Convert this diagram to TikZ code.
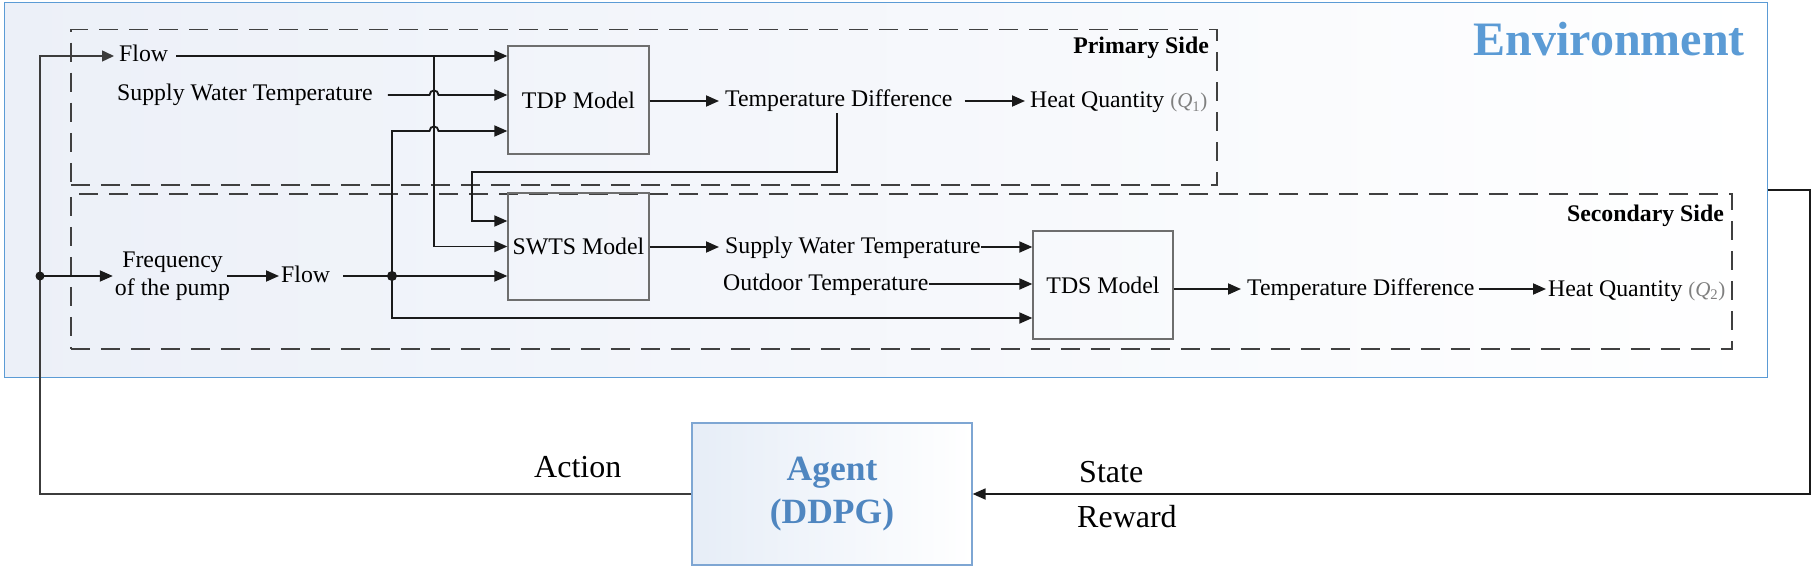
\documentclass[tikz,border=0pt]{standalone}
\usepackage{fontspec}
\setmainfont{Liberation Serif}
\usetikzlibrary{arrows.meta,calc}
\definecolor{envblue}{HTML}{5B9BD5}
\definecolor{envborder}{HTML}{5B9BD5}
\definecolor{envfill}{HTML}{ECF0F8}
\definecolor{agentblue}{HTML}{4F86C0}
\definecolor{agentborder}{HTML}{7EA6D3}
\definecolor{agentfill}{HTML}{E6EDF7}
\definecolor{dashgray}{HTML}{404040}
\definecolor{boxgray}{HTML}{6E6E6E}
\definecolor{linedark}{HTML}{1A1A1A}
\definecolor{actgray}{HTML}{3C3C3C}
\definecolor{qgray}{HTML}{7F7F7F}
\newcommand{\qlabel}[1]{\textcolor{qgray}{\fontsize{21}{24}\selectfont(\textit{Q}\textsubscript{#1})}}
\begin{document}
\begin{tikzpicture}[x=1pt,y=-1pt,
  lbl/.style={inner sep=0pt, font=\fontsize{23.8}{28}\selectfont, text height=15pt, text depth=3pt, anchor=west},
  freelbl/.style={inner sep=0pt, font=\fontsize{23.8}{28}\selectfont},
  biglbl/.style={inner sep=0pt, font=\fontsize{32}{38}\selectfont, anchor=base west},
  sidelbl/.style={inner sep=0pt, font=\bfseries\fontsize{23.8}{28}\selectfont, anchor=base east},
  model/.style={draw=boxgray, line width=1.3pt, minimum width=141pt, minimum height=108pt, inner sep=0pt, font=\fontsize{23.8}{28}\selectfont},
  dbox/.style={draw=dashgray, line width=1.5pt, dash pattern=on 19pt off 11pt, inner sep=0pt, anchor=north west},
  conn/.style={draw=linedark, line width=1.8pt, -{Triangle[length=13pt,width=11pt]}},
  gconn/.style={draw=actgray, line width=1.5pt, -{Triangle[length=12pt,width=11pt]}},
  dot/.style={fill=linedark}
]
\useasboundingbox (0,0) rectangle (1814,567);

% Environment
\node[draw=envborder, line width=1.2pt, left color=envfill, right color=white,
      minimum width=1763pt, minimum height=375pt, inner sep=0pt, anchor=north west] (env) at (4,2) {};
\node[font=\bfseries\fontsize{48}{56}\selectfont, text=envblue, anchor=base east, inner sep=0pt] (envlbl) at (1745,56) {Environment};

% dashed regions
\node[dbox, minimum width=1146pt, minimum height=155pt] (prim) at (70,29) {};
\node[dbox, minimum width=1661pt, minimum height=155pt] (sec) at (70,193) {};
\node[sidelbl] (primlbl) at (1209,54) {Primary Side};
\node[sidelbl] (seclbl) at (1724,221) {Secondary Side};

% model boxes
\node[model] (tdp) at (578.5,100) {TDP Model};
\node[model, minimum height=107pt] (swts) at (578.5,246.5) {SWTS Model};
\node[model, minimum width=140pt] (tds) at (1103,285) {TDS Model};

% text labels
\node[lbl] (flowA) at (119,56) {Flow};
\node[lbl] (swtA) at (117,95) {Supply Water Temperature};
\node[lbl] (tdA) at (725,101) {Temperature Difference};
\node[lbl] (hqA) at (1030,102) {Heat Quantity \qlabel{1}};
\node[freelbl, align=center] (freq) at (172.5,276) {Frequency\\of the pump};
\node[lbl] (flowB) at (281,276) {Flow};
\node[lbl] (swtB) at (725,247) {Supply Water Temperature};
\node[lbl] (otB) at (723,284) {Outdoor Temperature};
\node[lbl] (tdB) at (1247,289) {Temperature Difference};
\node[lbl] (hqB) at (1548,290) {Heat Quantity \qlabel{2}};

% agent
\node[draw=agentborder, line width=1.2pt, left color=agentfill, right color=white,
      minimum width=280pt, minimum height=142pt, inner sep=0pt, align=center,
      font=\bfseries\fontsize{35.5}{43}\selectfont, text=agentblue] (agent) at (832,494) {Agent\\(DDPG)};
\node[biglbl] (actlbl) at (534,477) {Action};
\node[biglbl] (statelbl) at (1079,482) {State};
\node[biglbl] (rewardlbl) at (1077,527) {Reward};

% coordinates
\coordinate (dA) at (40,276);
\coordinate (dB) at (392,276);
\coordinate (jx) at (434,56);
\coordinate (tdpin3) at ($(tdp.west)+(0,31)$);
\coordinate (tdsin3) at ($(tds.west)+(0,33)$);
\coordinate (swtsin1) at ($(swts.west)+(0,-25.5)$);
\coordinate (tdstart) at ($(tdA.south)+(-1.5,3)$);
\coordinate (tdturn) at (tdstart |- 0,172);
\coordinate (tx) at (472,172);
\coordinate (sr1) at (1810,190);

% primary side connectors
\draw[conn] ([xshift=8pt]flowA.east) -- (tdp.west |- flowA.east);
\draw[conn] ([xshift=15pt]swtA.east) -- ($(jx |- swtA.east)+(-4.5,0)$)
   .. controls +(0,-6) and +(0,-6) .. ($(jx |- swtA.east)+(4.5,0)$) -- (tdp.west |- swtA.east);
\draw[conn] (dB) -- (dB |- tdpin3) -- ($(jx |- tdpin3)+(-4.5,0)$)
   .. controls +(0,-6) and +(0,-6) .. ($(jx |- tdpin3)+(4.5,0)$) -- (tdpin3);
\draw[conn] (tdp.east |- tdA.west) -- ([xshift=-6pt]tdA.west);
\draw[conn] ([xshift=12pt]tdA.east) -- ($(hqA.west |- tdA.east)+(-5,0)$);

% cross connectors
\draw[conn] (jx) |- (swts.west);
\draw[conn] (tdstart) -- (tdturn) -- (tx) |- (swtsin1);

% secondary side connectors
\draw[conn] (dA) -- ([xshift=-2pt]freq.west);
\draw[conn] ([xshift=-3pt]freq.east) -- ([xshift=-2pt]flowB.west);
\draw[conn] ([xshift=13pt]flowB.east) -- (swts.west |- flowB.east);
\draw[conn] (dB) |- (tdsin3);
\draw[conn] (swts.east |- swtB.west) -- ([xshift=-6pt]swtB.west);
\draw[conn] (swtB.east) -- (tds.west |- swtB.east);
\draw[conn] (otB.east) -- (tds.west |- otB.east);
\draw[conn] (tds.east |- tdB.west) -- ([xshift=-6pt]tdB.west);
\draw[conn] ([xshift=4pt]tdB.east) -- ($(hqB.west |- tdB.east)+(-2,0)$);

% action loop
\draw[gconn] (agent.west) -- (agent.west -| dA) -- (dA) -- (dA |- flowA.west) -- ([xshift=-5pt]flowA.west);
\draw[conn] (env.east |- sr1) -- (sr1) |- (agent.east);

\fill[dot] (dA) circle[radius=4.5pt];
\fill[dot] (dB) circle[radius=5pt];
\end{tikzpicture}
\end{document}
